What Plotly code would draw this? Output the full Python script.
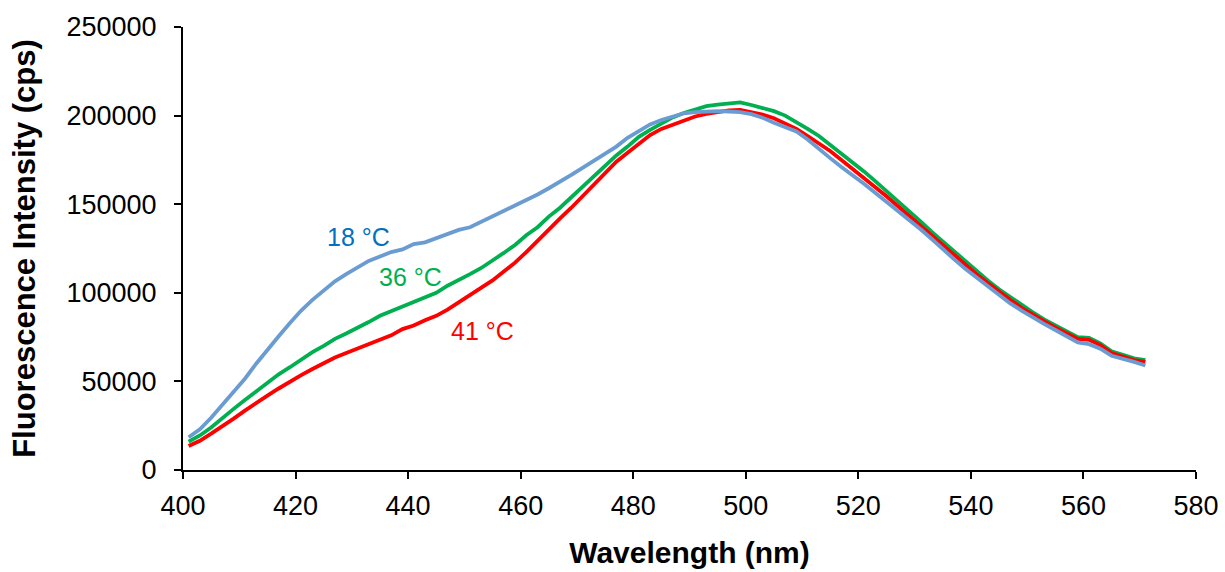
import plotly.graph_objects as go

# Emission wavelengths (nm)
wavelength = list(range(401, 572, 2))

# Fluorescence intensity (thousands of cps) at each temperature
intensity_18C = [
    18.5, 23, 29.5, 37, 44, 51.5, 60, 68, 75.5, 83,
    90, 96, 101.5, 106.5, 110.5, 114.5, 118, 120.5, 123, 124.5,
    127.5, 128.5, 131, 133, 135.5, 137, 140, 143, 146.5, 149,
    152, 155.5, 159, 162.5, 166.5, 170.5, 174.5, 178.5, 182.5, 187.5,
    191, 195, 197.5, 199.5, 201.3, 202, 202.5, 202.5, 202.3, 202,
    200.8, 198.8, 196, 193.5, 191, 186.5, 181, 176, 171, 166.5,
    161.5, 156.5, 151.5, 146.5, 141, 136, 130.5, 124.5, 119, 113.5,
    108.5, 104, 98.5, 94, 90, 86, 82.5, 79, 75.5, 72,
    71, 68.5, 64.5, 63, 61, 59,
]
intensity_36C = [
    16, 19.5, 24, 29.5, 34.5, 39.5, 44.5, 49.5, 54, 58,
    62.5, 66.5, 70, 74, 77, 80, 83.5, 87, 89.5, 92,
    95, 97.5, 100, 104, 107, 110.5, 114, 118, 122.5, 127,
    132.5, 137, 143, 148, 154, 160, 165.5, 172, 177.5, 182.5,
    188, 192, 195.5, 199, 201.5, 203.5, 205.3, 206.2, 207, 207.5,
    206, 204.5, 202.5, 200, 196.5, 192.5, 188.5, 183.5, 178.5, 174,
    168.5, 163, 157.5, 152, 146, 140.5, 134.5, 129, 123, 117.5,
    112, 107, 102, 97.5, 93, 89, 85, 81.5, 78, 75,
    74.5, 71.5, 67, 65, 63, 62,
]
intensity_41C = [
    13.5, 16.5, 20.5, 24.5, 29, 33.5, 38, 42, 46, 50,
    53.5, 57, 60.5, 63.5, 66, 68.5, 71, 73.5, 76, 79.5,
    81.5, 84.5, 87, 90.5, 94.5, 99, 102.5, 107, 112, 117,
    123, 129.5, 135.5, 142, 148, 154.5, 161, 168, 174, 179,
    184, 189, 192.5, 195, 197.5, 199.5, 201, 202, 203, 203.2,
    202, 200.5, 198.5, 195.5, 192.5, 188.5, 184.5, 180, 175, 170,
    165, 160, 154.5, 149, 143.5, 138, 132.5, 126.5, 121, 115.5,
    110.5, 105.5, 100.5, 96, 91.5, 87.5, 84, 80.5, 77, 74,
    73.5, 70.5, 66, 64, 62, 61,
]

x_ticks = [400, 420, 440, 460, 480, 500, 520, 540, 560, 580]
y_ticks = [0, 50000, 100000, 150000, 200000, 250000]

FONT = "Liberation Sans, Arial, sans-serif"

series = [
    ("36 °C", intensity_36C, "#00B050", "#00B050", 440.4, 108700),
    ("41 °C", intensity_41C, "#FF0000", "#FF0000", 453.2, 78600),
    ("18 °C", intensity_18C, "#6A9CD2", "#0070C0", 431.1, 131700),
]

fig = go.Figure()
for name, vals, color, label_color, lx, ly in series:
    fig.add_trace(go.Scatter(
        x=wavelength,
        y=[v * 1000 for v in vals],
        mode="lines",
        name=name,
        line=dict(color=color, width=3.8),
        showlegend=False,
    ))
    fig.add_annotation(
        x=lx, y=ly, text=name, showarrow=False,
        font=dict(family=FONT, size=25, color=label_color),
    )

axis_common = dict(
    showgrid=False,
    zeroline=False,
    showline=True,
    linecolor="black",
    linewidth=2,
    ticks="outside",
    ticklen=7,
    tickwidth=2,
    tickcolor="black",
    automargin=False,
    tickfont=dict(family=FONT, size=27, color="black"),
)

fig.update_xaxes(
    range=[400, 580],
    tickvals=x_ticks,
    ticktext=[str(v) for v in x_ticks],
    ticklabelstandoff=4,
    title=dict(text="<b>Wavelength (nm)</b>", standoff=22,
               font=dict(family=FONT, size=30, color="black")),
    **axis_common,
)
fig.update_yaxes(
    range=[0, 250000],
    tickvals=y_ticks,
    ticktext=[str(v) for v in y_ticks],
    ticklabelstandoff=12,
    title=dict(text="<b>Fluorescence Intensity (cps)</b>", standoff=22,
               font=dict(family=FONT, size=31, color="black")),
    **axis_common,
)

fig.update_layout(
    width=1225,
    height=572,
    margin=dict(l=183, r=29, t=27, b=102),
    paper_bgcolor="white",
    plot_bgcolor="white",
)

fig.write_html("out.html")
